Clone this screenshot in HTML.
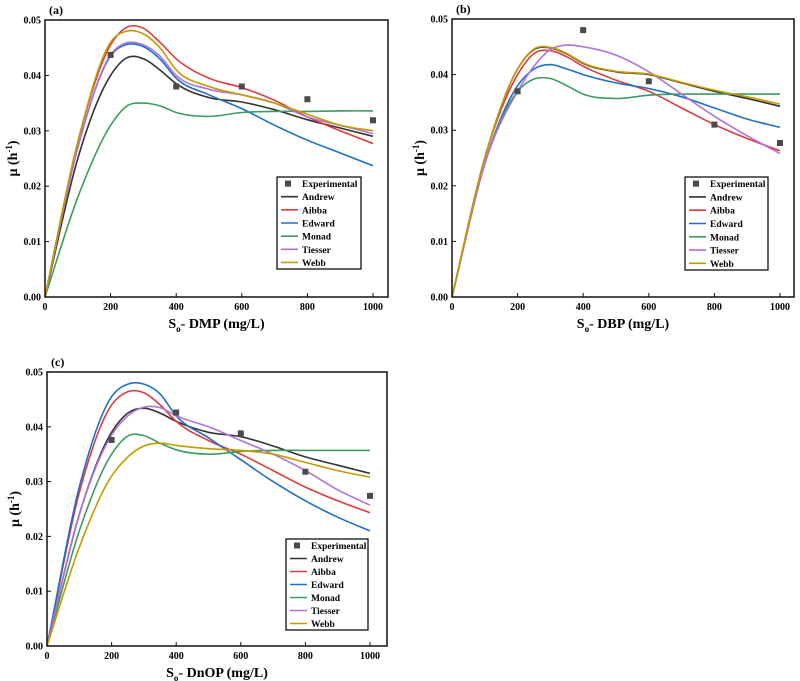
<!DOCTYPE html>
<html><head><meta charset="utf-8">
<style>
body{margin:0;background:#fff;}
svg{display:block;font-family:"Liberation Serif",serif;font-weight:bold;}
</style></head>
<body>
<svg id="fig" width="800" height="681" viewBox="0 0 800 681" xmlns="http://www.w3.org/2000/svg"></svg>
<script>
const xGrid=[0,100,200,250,300,350,400,500,600,700,800,900,1000];
const expX=[200,400,600,800,1000];
const seriesNames=["Andrew","Aibba","Edward","Monad","Tiesser","Webb"];
const yTicks=[0,0.01,0.02,0.03,0.04,0.05];
const yTickLabels=["0.00","0.01","0.02","0.03","0.04","0.05"];
const xTicks=[0,200,400,600,800,1000];
const xTickLabels=["0","200","400","600","800","1000"];

const expA=[0.0437,0.038,0.038,0.0357,0.0319];
const andrewA=[0,0.025,0.040,0.0432,0.0430,0.041,0.0385,0.036,0.0352,0.0338,0.032,0.0305,0.029];
const aibbaA=[0,0.028,0.0455,0.0487,0.0485,0.046,0.043,0.0395,0.0378,0.0355,0.0325,0.030,0.0277];
const edwardA=[0,0.027,0.0435,0.0456,0.0452,0.043,0.0395,0.0365,0.034,0.031,0.0283,0.026,0.0237];
const monadA=[0,0.018,0.031,0.0345,0.035,0.0345,0.0333,0.0326,0.0333,0.0335,0.0335,0.0336,0.0336];
const tiesserA=[0,0.027,0.0437,0.0459,0.0455,0.0435,0.040,0.0375,0.0365,0.035,0.0325,0.031,0.0295];
const webbA=[0,0.028,0.046,0.048,0.0475,0.045,0.041,0.038,0.0365,0.035,0.033,0.031,0.030];

const expB=[0.037,0.048,0.0388,0.031,0.0277];
const andrewB=[0,0.025,0.041,0.0445,0.0448,0.0437,0.042,0.0405,0.040,0.0385,0.037,0.0357,0.0343];
const aibbaB=[0,0.025,0.040,0.0438,0.0443,0.0432,0.0415,0.039,0.037,0.034,0.031,0.0285,0.0263];
const edwardB=[0,0.024,0.038,0.041,0.0418,0.041,0.040,0.0385,0.0375,0.036,0.034,0.032,0.0305];
const monadB=[0,0.024,0.037,0.0392,0.0393,0.038,0.0365,0.0357,0.0363,0.0365,0.0365,0.0365,0.0365];
const tiesserB=[0,0.024,0.037,0.0415,0.0445,0.0453,0.045,0.0435,0.0405,0.0365,0.0325,0.029,0.0258];
const webbB=[0,0.025,0.041,0.0446,0.0449,0.0438,0.0421,0.0406,0.0401,0.0386,0.0372,0.036,0.0347];

const expC=[0.0376,0.0426,0.0388,0.0318,0.0274];
const andrewC=[0,0.024,0.039,0.0425,0.0434,0.0425,0.041,0.039,0.0382,0.0365,0.0345,0.033,0.0315];
const aibbaC=[0,0.028,0.044,0.0464,0.0462,0.044,0.041,0.0375,0.035,0.032,0.029,0.0265,0.0243];
const edwardC=[0,0.029,0.0455,0.0478,0.0478,0.046,0.042,0.038,0.034,0.030,0.0265,0.0235,0.021];
const monadC=[0,0.021,0.035,0.0383,0.0384,0.037,0.0358,0.035,0.0355,0.0357,0.0357,0.0357,0.0357];
const tiesserC=[0,0.024,0.0385,0.042,0.0436,0.0435,0.042,0.040,0.0375,0.035,0.032,0.0285,0.0257];
const webbC=[0,0.018,0.031,0.0345,0.0365,0.037,0.0366,0.036,0.0357,0.035,0.0335,0.032,0.0308];

const colors=["#333333","#e0393c","#1f6fc8","#3a9e5e","#b270d9","#c49a00"];
const NS="http://www.w3.org/2000/svg";
const svg=document.getElementById("fig");
function mk(tag,attrs,parent){const e=document.createElementNS(NS,tag);for(const k in attrs)e.setAttribute(k,attrs[k]);(parent||svg).appendChild(e);return e;}

const panels=[
 {id:"a",label:"(a)",chem:"DMP",x0:45,x1:373,right:388,top:20,bot:297,exp:expA,series:[andrewA,aibbaA,edwardA,monadA,tiesserA,webbA],leg:[277,177,84,92]},
 {id:"b",label:"(b)",chem:"DBP",x0:452,x1:780,right:794,top:19,bot:297,exp:expB,series:[andrewB,aibbaB,edwardB,monadB,tiesserB,webbB],leg:[685,177,83,93]},
 {id:"c",label:"(c)",chem:"DnOP",x0:47,x1:370,right:387,top:372,bot:646,exp:expC,series:[andrewC,aibbaC,edwardC,monadC,tiesserC,webbC],leg:[286,539,82,91]}
];

// Hermite spline with x-aware slopes (pixel space)
function pathFrom(pts){
 const n=pts.length,m=[];
 for(let i=0;i<n;i++){
  if(i===0)m.push((pts[1][1]-pts[0][1])/(pts[1][0]-pts[0][0]));
  else if(i===n-1)m.push((pts[n-1][1]-pts[n-2][1])/(pts[n-1][0]-pts[n-2][0]));
  else{
   const d0=(pts[i][1]-pts[i-1][1])/(pts[i][0]-pts[i-1][0]);
   const d1=(pts[i+1][1]-pts[i][1])/(pts[i+1][0]-pts[i][0]);
   const h0=pts[i][0]-pts[i-1][0],h1=pts[i+1][0]-pts[i][0];
   m.push((d0*h1+d1*h0)/(h0+h1));
  }
 }
 let d="M"+pts[0][0].toFixed(1)+","+pts[0][1].toFixed(1);
 for(let i=0;i<n-1;i++){
  const h=pts[i+1][0]-pts[i][0];
  const c1=[pts[i][0]+h/3,pts[i][1]+m[i]*h/3];
  const c2=[pts[i+1][0]-h/3,pts[i+1][1]-m[i+1]*h/3];
  d+=" C"+c1[0].toFixed(1)+","+c1[1].toFixed(1)+" "+c2[0].toFixed(1)+","+c2[1].toFixed(1)+" "+pts[i+1][0].toFixed(1)+","+pts[i+1][1].toFixed(1);
 }
 return d;
}

panels.forEach(P=>{
 const g=mk("g",{});
 
 
 const xs=v=>P.x0+(v/1000)*(P.x1-P.x0);
 const ys=v=>P.bot-(v/0.05)*(P.bot-P.top);
 const clip=mk("clipPath",{id:"clip"+P.id},g);
 mk("rect",{x:P.x0,y:P.top,width:P.right-P.x0,height:P.bot-P.top},clip);
 P.series.forEach((arr,si)=>{
  const pts=arr.map((v,i)=>[xs(xGrid[i]),ys(v)]);
  const p=mk("path",{d:pathFrom(pts),fill:"none",stroke:colors[si],"stroke-width":1.6,"clip-path":"url(#clip"+P.id+")"},g);
  
  
 });
 P.exp.forEach((v,i)=>{
  const r=mk("rect",{x:xs(expX[i])-3,y:ys(v)-3,width:6,height:6,fill:"#4a4a4a"},g);
  
  
 });
 const fr=mk("rect",{x:P.x0,y:P.top,width:P.right-P.x0,height:P.bot-P.top,fill:"none",stroke:"#111","stroke-width":1.5},g);
 
 
 yTicks.forEach((v,i)=>{
  const y=ys(v);
  mk("line",{x1:P.x0,x2:P.x0+4,y1:y,y2:y,stroke:"#111","stroke-width":1},g);
  const t=mk("text",{x:P.x0-4,y:y+3.5,"text-anchor":"end","font-size":10},g);
  t.textContent=yTickLabels[i];
  
  
 });
 xTicks.forEach((v,i)=>{
  const x=xs(v);
  mk("line",{x1:x,x2:x,y1:P.bot,y2:P.bot-4,stroke:"#111","stroke-width":1},g);
  const t=mk("text",{x:x,y:P.bot+13,"text-anchor":"middle","font-size":10},g);
  t.textContent=xTickLabels[i];
  
  
 });
 const lab=mk("text",{x:P.x0+4,y:P.top-6,"font-size":12},g);
 lab.textContent=P.label;
 
 
 const xt=mk("text",{x:(P.x0+P.right)/2,y:P.bot+31,"text-anchor":"middle","font-size":14},g);
 xt.innerHTML='S<tspan font-size="9" dy="4">o</tspan><tspan dy="-4">- '+P.chem+' (mg/L)</tspan>';
 
 
 const cy=(P.top+P.bot)/2;
 const yt=mk("text",{x:0,y:0,"text-anchor":"middle","font-size":14,transform:"translate("+(P.x0-28)+","+cy+") rotate(-90)"},g);
 yt.innerHTML='μ (h<tspan font-size="9" dy="-5">-1</tspan><tspan dy="5">)</tspan>';
 
 
 const [lx,ly,lw,lh]=P.leg;
 const lg=mk("g",{},g);
 
 
 mk("rect",{x:lx,y:ly,width:lw,height:lh,fill:"#fff",stroke:"#111","stroke-width":1.3},lg);
 const step=lh/7;
 const labels=["Experimental"].concat(seriesNames);
 labels.forEach((n,i)=>{
  const cyy=ly+step*(i+0.5);
  if(i===0){mk("rect",{x:lx+8,y:cyy-3,width:6,height:6,fill:"#4a4a4a"},lg);}
  else{mk("line",{x1:lx+4,x2:lx+21,y1:cyy,y2:cyy,stroke:colors[i-1],"stroke-width":1.6},lg);}
  const t=mk("text",{x:lx+25,y:cyy+3.5,"font-size":9.5},lg);
  t.textContent=n;
  
  
 });
});
</script>
</body></html>
